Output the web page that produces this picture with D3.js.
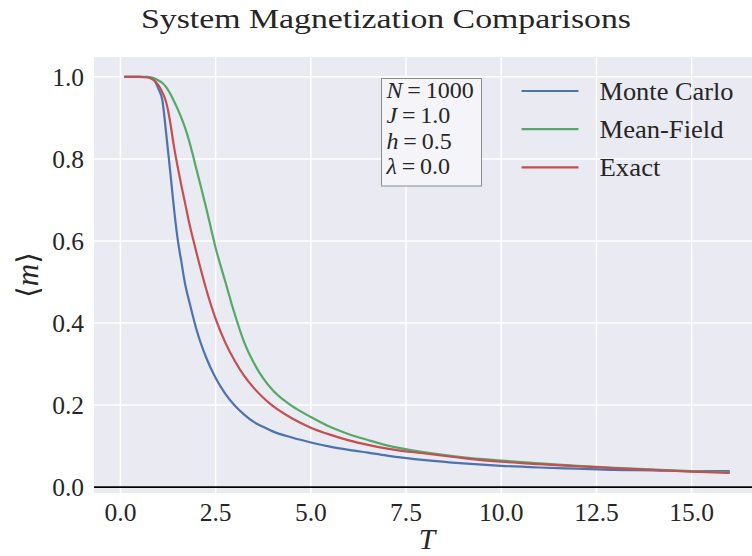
<!DOCTYPE html>
<html>
<head>
<meta charset="utf-8">
<script src="https://cdn.jsdelivr.net/npm/d3@7"></script>
<style>
  html, body { margin: 0; padding: 0; background: #ffffff; }
  svg { display: block; }
  text { font-family: "Liberation Serif", "Times New Roman", "DejaVu Serif", serif; fill: #262626; }
</style>
</head>
<body>
<svg id="chart" width="752" height="556"></svg>
<script>
// ---- data ----
const temperatures = [0.1, 0.3, 0.5, 0.7, 0.8, 0.9, 1.0, 1.1, 1.2, 1.3, 1.4, 1.5, 1.6, 1.7, 1.8, 1.9, 2.0, 2.25, 2.5, 2.75, 3.0, 3.25, 3.5, 3.75, 4.0, 4.5, 5.0, 5.5, 6.0, 6.5, 7.0, 8.0, 9.0, 10.0, 11.0, 12.0, 13.0, 14.0, 15.0, 16.0];
const monteCarlo = [1.0, 1.0, 1.0, 0.999, 0.997, 0.99, 0.97, 0.943, 0.862, 0.775, 0.684, 0.606, 0.549, 0.494, 0.455, 0.418, 0.383, 0.316, 0.266, 0.228, 0.199, 0.177, 0.159, 0.147, 0.136, 0.121, 0.109, 0.099, 0.091, 0.084, 0.077, 0.066, 0.058, 0.052, 0.048, 0.045, 0.042, 0.041, 0.039, 0.039];
const meanField = [1.0, 1.0, 1.0, 1.0, 0.999, 0.996, 0.991, 0.985, 0.975, 0.96, 0.942, 0.922, 0.9, 0.875, 0.845, 0.81, 0.773, 0.681, 0.583, 0.502, 0.422, 0.353, 0.303, 0.265, 0.236, 0.198, 0.171, 0.147, 0.129, 0.115, 0.102, 0.085, 0.073, 0.065, 0.058, 0.052, 0.047, 0.043, 0.039, 0.036];
const exact = [1.0, 1.0, 1.0, 0.999, 0.996, 0.99, 0.979, 0.962, 0.938, 0.893, 0.833, 0.782, 0.735, 0.691, 0.646, 0.607, 0.570, 0.483, 0.410, 0.353, 0.308, 0.271, 0.242, 0.218, 0.198, 0.168, 0.145, 0.128, 0.114, 0.103, 0.094, 0.082, 0.071, 0.062, 0.056, 0.051, 0.046, 0.042, 0.038, 0.035];
const seriesNames = ["Monte Carlo", "Mean-Field", "Exact"];
const seriesColors = ["#4C72B0", "#55A868", "#C44E52"];
const xTickValues = [0, 2.5, 5, 7.5, 10, 12.5, 15];
const yTickValues = [0, 0.2, 0.4, 0.6, 0.8, 1.0];
const paramLines = [["N", "1000"], ["J", "1.0"], ["h", "0.5"], ["λ", "0.0"]];

// ---- layout ----
const svg = d3.select("#chart");
const plot = { left: 94, top: 57, right: 760, bottom: 493 };

const x = d3.scaleLinear().domain([-0.695, 16.795]).range([plot.left, plot.right]);
const y = d3.scaleLinear().domain([-0.0142, 1.0484]).range([plot.bottom, plot.top]);

// background
svg.append("rect").attr("x", 0).attr("y", 0).attr("width", 752).attr("height", 556).attr("fill", "#ffffff");
svg.append("rect")
  .attr("x", plot.left).attr("y", plot.top)
  .attr("width", plot.right - plot.left).attr("height", plot.bottom - plot.top)
  .attr("fill", "#EAEAF2");

svg.append("defs").append("clipPath").attr("id", "clip")
  .append("rect").attr("x", plot.left).attr("y", plot.top)
  .attr("width", plot.right - plot.left).attr("height", plot.bottom - plot.top);

// grid
const grid = svg.append("g").attr("stroke", "#ffffff").attr("stroke-width", 1.5);
grid.selectAll("line.vx").data(xTickValues).join("line")
  .attr("x1", d => x(d)).attr("x2", d => x(d))
  .attr("y1", plot.top).attr("y2", plot.bottom);
grid.selectAll("line.hy").data(yTickValues).join("line")
  .attr("x1", plot.left).attr("x2", plot.right)
  .attr("y1", d => y(d)).attr("y2", d => y(d));

// axhline at 0
svg.append("line")
  .attr("x1", plot.left).attr("x2", plot.right)
  .attr("y1", y(0)).attr("y2", y(0))
  .attr("stroke", "#000000").attr("stroke-width", 1.6);

// lines
const lineGen = d3.line()
  .x((d, i) => x(temperatures[i]))
  .y(d => y(d))
  .curve(d3.curveMonotoneX);
const seriesData = [monteCarlo, meanField, exact];
svg.append("g").attr("clip-path", "url(#clip)")
  .selectAll("path").data(seriesData).join("path")
  .attr("d", d => lineGen(d))
  .attr("fill", "none")
  .attr("stroke", (d, i) => seriesColors[i])
  .attr("stroke-width", 2.2)
  .attr("stroke-linejoin", "round")
  .attr("stroke-linecap", "butt");

// tick labels
svg.append("g").selectAll("text").data(xTickValues).join("text")
  .attr("x", d => x(d)).attr("y", 520.5)
  .attr("text-anchor", "middle")
  .attr("font-size", 25.5)
  .text(d => d3.format(".1f")(d));
svg.append("g").selectAll("text").data(yTickValues).join("text")
  .attr("x", 84).attr("y", d => y(d) + 8.8)
  .attr("text-anchor", "end")
  .attr("font-size", 25.5)
  .text(d => d3.format(".1f")(d));

// axis labels
svg.append("text")
  .attr("x", 427).attr("y", 549)
  .attr("text-anchor", "middle")
  .attr("font-size", 29.5).attr("font-style", "italic")
  .text("T");

const yl = svg.append("text")
  .attr("transform", "translate(38,275) rotate(-90)")
  .attr("text-anchor", "middle")
  .attr("font-size", 31);
yl.append("tspan").attr("font-family", "DejaVu Serif").attr("font-size", 30).text("\u27E8");
yl.append("tspan").attr("font-style", "italic").text("m");
yl.append("tspan").attr("font-family", "DejaVu Serif").attr("font-size", 30).text("\u27E9");

// title
svg.append("text")
  .attr("x", 386).attr("y", 28)
  .attr("text-anchor", "middle")
  .attr("font-size", 27)
  .attr("textLength", 490).attr("lengthAdjust", "spacingAndGlyphs")
  .text("System Magnetization Comparisons");

// parameter box
svg.append("rect")
  .attr("x", 381.5).attr("y", 78.5).attr("width", 100).attr("height", 107.5)
  .attr("fill", "#F5F5F9").attr("stroke", "#8c8c8c").attr("stroke-width", 1);
const pbox = svg.append("g");
paramLines.forEach((p, i) => {
  const t = pbox.append("text")
    .attr("x", 386.5).attr("y", 98 + i * 25.4)
    .attr("font-size", 24);
  t.append("tspan").attr("font-style", "italic").text(p[0]);
  t.append("tspan").text("\u2009=\u2009" + p[1]);
});

// legend
const legendWidths = [134, 124, 61];
const legend = svg.append("g");
seriesNames.forEach((name, i) => {
  const ly = 91 + i * 38.2;
  legend.append("line")
    .attr("x1", 521.5).attr("x2", 578.5).attr("y1", ly).attr("y2", ly)
    .attr("stroke", seriesColors[i]).attr("stroke-width", 2.2);
  legend.append("text")
    .attr("x", 599.5).attr("y", ly + 8.5)
    .attr("font-size", 25)
    .attr("textLength", legendWidths[i]).attr("lengthAdjust", "spacingAndGlyphs")
    .text(name);
});
</script>
</body>
</html>
